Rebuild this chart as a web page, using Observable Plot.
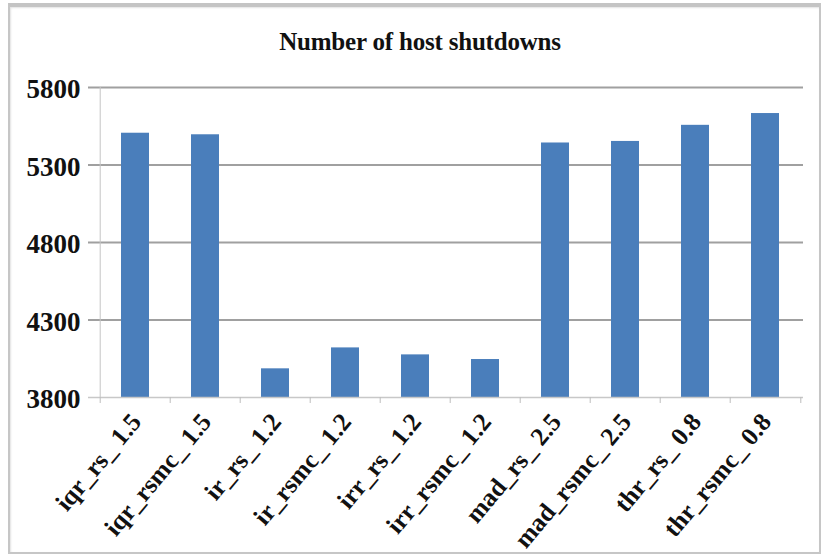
<!DOCTYPE html>
<html>
<head>
<meta charset="utf-8">
<script src="https://cdn.jsdelivr.net/npm/d3@7"></script>
<script src="https://cdn.jsdelivr.net/npm/@observablehq/plot@0.6"></script>
<style>
  html, body { margin: 0; padding: 0; background: #fff; }
  #chart { position: relative; width: 823px; height: 556px; overflow: hidden; }
  #border {
    position: absolute; left: 8px; top: 3px; width: 809px; height: 545px;
    border: 2px solid #c6c6c6; border-top: 4px solid #c4c4c4;
    box-shadow: inset 1px 1px 2px #e2e2e2;
    pointer-events: none;
  }
  #title {
    box-sizing: border-box; width: 823px; height: 60px;
    padding-top: 28px; padding-left: 17px;
    text-align: center; line-height: 28px;
    font-family: "Liberation Serif", "Times New Roman", serif;
    font-weight: bold; font-size: 25px; letter-spacing: -0.2px; color: #111;
  }
  #plot svg { display: block; }
</style>
</head>
<body>
<div id="chart">
  <div id="title">Number of host shutdowns</div>
  <div id="plot"></div>
  <div id="border"></div>
</div>
<script>
// Policies compared (x categories)
const policies = [
  "iqr_rs_ 1.5", "iqr_rsmc_ 1.5", "ir_rs_ 1.2", "ir_rsmc_ 1.2", "irr_rs_ 1.2",
  "irr_rsmc_ 1.2", "mad_rs_ 2.5", "mad_rsmc_ 2.5", "thr_rs_ 0.8", "thr_rsmc_ 0.8"
];
// Number of host shutdowns for each policy
const shutdowns = [5505, 5495, 3985, 4120, 4075, 4045, 5442, 5452, 5556, 5632];
// Value axis ticks
const yTicks = [3800, 4300, 4800, 5300, 5800];

const rows = policies.map((p, i) => ({policy: p, value: shutdowns[i]}));

const W = 823, H = 496;
const mL = 97, mR = 20, mT = 27, mB = 159;
const step = (W - mL - mR) / policies.length;

const fontFam = "'Liberation Serif', 'Times New Roman', serif";

const chart = Plot.plot({
  width: W,
  height: H,
  marginLeft: mL,
  marginRight: mR,
  marginTop: mT,
  marginBottom: mB,
  style: {fontFamily: fontFam, background: "transparent", overflow: "visible"},
  x: {domain: policies, paddingInner: 0.6, paddingOuter: 0.3, axis: null},
  y: {domain: [3800, 5800], axis: null},
  marks: [
    // horizontal gridlines (extend a little left of the value axis)
    Plot.ruleY(yTicks.filter(t => t > 3800), {y: d => d, stroke: "#a0a0a0", strokeWidth: 2, insetLeft: -9}),
    // value axis line, on the left edge of the first category band
    Plot.ruleX([policies[0]], {x: d => d, y1: 3800, y2: 5800, dx: -step / 2, stroke: "#c4c4c4", strokeWidth: 1}),
    // bars
    Plot.barY(rows, {x: "policy", y1: 3800, y2: "value", fill: "#4a7ebb"}),
    // category axis baseline
    Plot.ruleY([3800], {stroke: "#c8c8c8", strokeWidth: 1.5, insetLeft: -9}),
    // category boundary ticks
    Plot.ruleX(policies, {x: d => d, y1: 3800, y2: 3800, insetBottom: -6, dx: -step / 2, stroke: "#bdbdbd", strokeWidth: 1}),
    Plot.ruleX([policies[policies.length - 1]], {x: d => d, y1: 3800, y2: 3800, insetBottom: -6, dx: step / 2, stroke: "#bdbdbd", strokeWidth: 1}),
    // value tick labels
    Plot.text(yTicks, {
      y: d => d, frameAnchor: "left", text: d => String(d),
      textAnchor: "end", dx: -17, dy: 2,
      fontSize: 27, fontWeight: "bold", fill: "#111"
    }),
    // rotated category labels
    Plot.text(policies, {
      x: d => d, frameAnchor: "bottom", text: d => d,
      rotate: -50, textAnchor: "end", lineAnchor: "bottom",
      dx: 7, dy: 25,
      fontSize: 25.5, fontWeight: "bold", fill: "#111"
    })
  ]
});

document.getElementById("plot").appendChild(chart);
</script>
</body>
</html>
